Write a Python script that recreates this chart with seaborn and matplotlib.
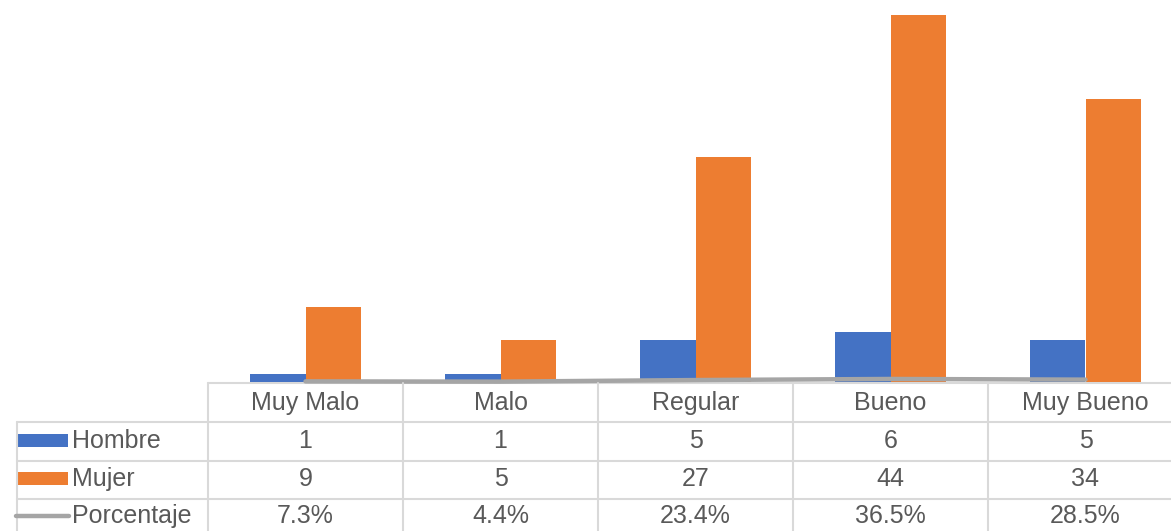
import numpy as np
import pandas as pd
import matplotlib.pyplot as plt
import seaborn as sns
from matplotlib.transforms import blended_transform_factory
from matplotlib.patches import Rectangle
from matplotlib.lines import Line2D

# datos del gráfico
categorias = ['Muy Malo', 'Malo', 'Regular', 'Bueno', 'Muy Bueno']
hombre = [1, 1, 5, 6, 5]
mujer = [9, 5, 27, 44, 34]
porcentaje = [0.073, 0.044, 0.234, 0.365, 0.285]
porcentaje_txt = ['7.3%', '4.4%', '23.4%', '36.5%', '28.5%']

azul = '#4472C4'
naranja = '#ED7D31'
gris = '#A5A5A5'
borde = '#D9D9D9'
texto = '#595959'
fs = 18

sns.set_theme(style='white')
plt.rcParams['font.family'] = ['Liberation Sans', 'DejaVu Sans']

df = pd.DataFrame({
    'Categoria': categorias * 2,
    'Cantidad': hombre + mujer,
    'Sexo': ['Hombre'] * 5 + ['Mujer'] * 5,
})

W, H = 1171, 531
fig = plt.figure(figsize=(W / 100, H / 100), dpi=100)
# el área del gráfico se sale un poco por la derecha, como en la imagen original
ax = fig.add_axes([208 / W, (H - 382) / H, 975 / W, 371 / H])

sns.barplot(data=df, x='Categoria', y='Cantidad', hue='Sexo', order=categorias,
            palette={'Hombre': azul, 'Mujer': naranja}, saturation=1,
            width=0.574, linewidth=0, ax=ax, legend=False)
sns.lineplot(x=np.arange(len(categorias)), y=porcentaje, color=gris,
             linewidth=3.2, ax=ax, legend=False)
for l in ax.lines:
    l.set_solid_capstyle('round')
    l.set_clip_on(False)

ax.set_xlim(-0.5, len(categorias) - 0.5)
ax.set_ylim(0, 44.5)
ax.set_xticks([])
ax.set_yticks([])
ax.set_xlabel('')
ax.set_ylabel('')
for s in ax.spines.values():
    s.set_visible(False)

# tabla de datos debajo del gráfico
tr = blended_transform_factory(ax.transData, fig.transFigure)
fy = lambda px: 1 - px / H
fx = lambda px: px / W
filas = [383, 422, 461, 499, 540]
x_izq = -0.5
x_der = len(categorias) - 0.5

# líneas horizontales
ax.add_line(Line2D([x_izq, x_der], [fy(filas[0])] * 2, transform=tr, color=borde,
                   linewidth=1.5, clip_on=False, zorder=0))
for y in filas[1:4]:
    fig.add_artist(Line2D([fx(17), 1.0], [fy(y)] * 2, color=borde, linewidth=1.5))
# líneas verticales
for i in range(len(categorias) + 1):
    ax.add_line(Line2D([x_izq + i] * 2, [fy(filas[0]), 0], transform=tr, color=borde,
                       linewidth=1.5, clip_on=False))
fig.add_artist(Line2D([fx(17)] * 2, [fy(filas[1]), 0], color=borde, linewidth=1.5))

# encabezados
for i, c in enumerate(categorias):
    ax.text(i, fy(403), c, transform=tr, ha='center', va='center',
            fontsize=fs, color=texto)

# filas con valores
valores = [[str(v) for v in hombre], [str(v) for v in mujer], porcentaje_txt]
nombres = ['Hombre', 'Mujer', 'Porcentaje']
centros = [441, 479, 516]
for nombre, vals, yc in zip(nombres, valores, centros):
    for i, v in enumerate(vals):
        ax.text(i, fy(yc), v, transform=tr, ha='center', va='center',
                fontsize=fs, color=texto)
    fig.text(fx(72), fy(yc), nombre, ha='left', va='center', fontsize=fs, color=texto)

# claves de la leyenda en la tabla
fig.add_artist(Rectangle((fx(16), fy(447)), fx(52), 13 / H, color=azul, linewidth=0))
fig.add_artist(Rectangle((fx(16), fy(485)), fx(52), 13 / H, color=naranja, linewidth=0))
fig.add_artist(Line2D([fx(16), fx(69)], [fy(516)] * 2, color=gris, linewidth=3.2,
                      solid_capstyle='round'))

fig.savefig('out.png', dpi=100)
